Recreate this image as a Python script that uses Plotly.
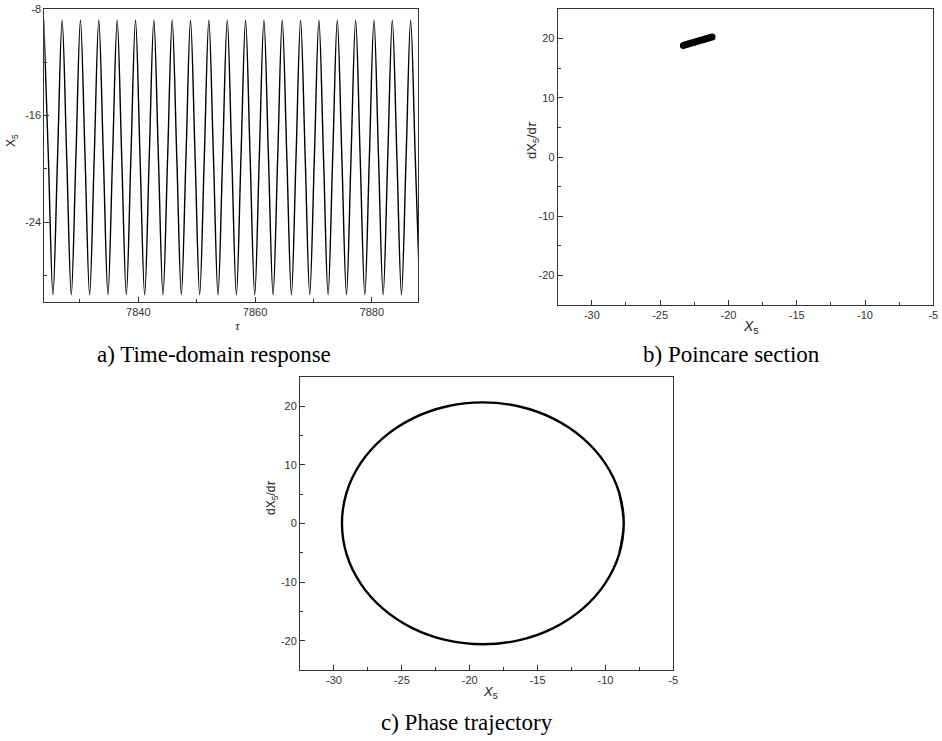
import plotly.graph_objects as go

# ---------------- data ----------------
# a) time-domain response: quarter-period points (peak, down-crossing, trough, up-crossing)
tau = [7823.81, 7824.60, 7825.38, 7826.17,
       7826.95, 7827.74, 7828.52, 7829.31,
       7830.09, 7830.88, 7831.66, 7832.45,
       7833.23, 7834.02, 7834.80, 7835.59,
       7836.38, 7837.16, 7837.95, 7838.73,
       7839.52, 7840.30, 7841.09, 7841.87,
       7842.66, 7843.44, 7844.23, 7845.02,
       7845.80, 7846.59, 7847.37, 7848.16,
       7848.94, 7849.73, 7850.51, 7851.30,
       7852.08, 7852.87, 7853.65, 7854.44,
       7855.23, 7856.01, 7856.80, 7857.58,
       7858.37, 7859.15, 7859.94, 7860.72,
       7861.51, 7862.29, 7863.08, 7863.87,
       7864.65, 7865.44, 7866.22, 7867.01,
       7867.79, 7868.58, 7869.36, 7870.15,
       7870.93, 7871.72, 7872.50, 7873.29,
       7874.08, 7874.86, 7875.65, 7876.43,
       7877.22, 7878.00, 7878.79, 7879.57,
       7880.36, 7881.14, 7881.93, 7882.72,
       7883.50, 7884.29, 7885.07, 7885.86,
       7886.64, 7887.43, 7888.21]
x5 = [-8.85, -19.15, -29.45, -19.15] * 20 + [-8.85, -19.15, -29.45]

# b) Poincare section points
poin_x = [-23.30, -23.15, -23.00, -22.85, -22.70, -22.55, -22.40, -22.25, -22.10,
          -21.95, -21.80, -21.65, -21.50, -21.35, -21.20]
poin_y = [18.85, 18.96, 19.06, 19.16, 19.26, 19.36, 19.46, 19.56, 19.66,
          19.76, 19.86, 19.96, 20.06, 20.17, 20.28]

# c) phase trajectory points (closed loop; one segment repeated at each end to close smoothly)
ph_x = [-9.00, -8.65, -9.00, -10.04, -11.69, -13.84, -16.34, -19.03, -21.72, -24.22,
        -26.37, -28.02, -29.06, -29.41, -29.06, -28.02, -26.37, -24.22, -21.72,
        -19.03, -16.34, -13.84, -11.69, -10.04, -9.00, -8.65, -9.00]
ph_y = [-5.34, 0.0, 5.34, 10.31, 14.58, 17.86, 19.92, 20.62, 19.92, 17.86,
        14.58, 10.31, 5.34, 0.0, -5.34, -10.31, -14.58, -17.86, -19.92,
        -20.62, -19.92, -17.86, -14.58, -10.31, -5.34, 0.0, 5.34]

# tick values / labels (hyphen minus as in the reference)
a_xticks = [7840, 7860, 7880]
a_yticks = [-8, -16, -24]
bc_xticks = [-30, -25, -20, -15, -10, -5]
bc_yticks = [20, 10, 0, -10, -20]

captions = ["a) Time-domain response", "b) Poincare section", "c) Phase trajectory"]

# ---------------- layout helpers ----------------
W, H = 942, 741
def px(x):
    return x / W
def py(y):
    return 1 - y / H

AX = "#333333"
tickfont = dict(family="Liberation Sans, Arial, sans-serif", size=11, color=AX)

def lab(v):
    return [str(t) for t in v]

def axis(rng, tvals, mdtick, mtick0, dom, anchor):
    return dict(range=rng, tickmode="array", tickvals=tvals, ticktext=lab(tvals),
                domain=dom, anchor=anchor,
                showline=True, linecolor=AX, linewidth=1, mirror=True,
                ticks="inside", ticklen=5, tickcolor=AX, tickwidth=1,
                showgrid=False, zeroline=False, tickfont=tickfont,
                minor=dict(ticks="inside", ticklen=3, dtick=mdtick, tick0=mtick0,
                           tickcolor=AX, showgrid=False))

fig = go.Figure()

fig.add_trace(go.Scatter(x=tau, y=x5, mode="lines", xaxis="x", yaxis="y",
                         line=dict(color="black", width=1.4, shape="spline"),
                         showlegend=False))
fig.add_trace(go.Scatter(x=poin_x, y=poin_y, mode="markers", xaxis="x2", yaxis="y2",
                         marker=dict(color="black", size=7),
                         showlegend=False))
fig.add_trace(go.Scatter(x=ph_x, y=ph_y, mode="lines", xaxis="x3", yaxis="y3",
                         line=dict(color="black", width=2.4, shape="spline"),
                         showlegend=False))

fig.update_layout(
    template="none",
    width=W, height=H, margin=dict(l=0, r=0, t=0, b=0, pad=0),
    paper_bgcolor="white", plot_bgcolor="white",
    xaxis=axis([7823.9, 7887.9], a_xticks, 10, 7840, [px(44.3), px(418)], "y"),
    yaxis=axis([-30, -8], a_yticks, 4, -8, [py(302), py(9)], "x"),
    xaxis2=axis([-32.5, -5], bc_xticks, 2.5, -30, [px(557.7), px(933.3)], "y2"),
    yaxis2=axis([-25, 25], bc_yticks, 5, 0, [py(305), py(9)], "x2"),
    xaxis3=axis([-32.5, -5], bc_xticks, 2.5, -30, [px(300), px(673.3)], "y3"),
    yaxis3=axis([-25, 25], bc_yticks, 5, 0, [py(670), py(376.7)], "x3"),
)

sans = "Liberation Sans, Arial, sans-serif"
serif = "Liberation Serif, Times New Roman, serif"
anns = [
    dict(text="X<sub>5</sub>", x=px(12), y=py(141), textangle=-90,
         font=dict(family=sans, size=12, color="#222")),
    dict(text="<i>τ</i>", x=px(238), y=py(325),
         font=dict(family=serif, size=13, color="#222")),
    dict(text="<i>X</i><sub>5</sub>", x=px(751), y=py(327),
         font=dict(family=sans, size=14, color="#222")),
    dict(text="dX<sub>5</sub>/d<i>τ</i>", x=px(532), y=py(140), textangle=-90,
         font=dict(family=sans, size=13, color="#222")),
    dict(text="<i>X</i><sub>5</sub>", x=px(490), y=py(692),
         font=dict(family=sans, size=13, color="#222")),
    dict(text="dX<sub>5</sub>/d<i>τ</i>", x=px(272), y=py(498), textangle=-90,
         font=dict(family=sans, size=12, color="#222")),
    dict(text=captions[0], x=px(214), y=py(354),
         font=dict(family=serif, size=23, color="black")),
    dict(text=captions[1], x=px(731), y=py(354),
         font=dict(family=serif, size=23, color="black")),
    dict(text=captions[2], x=px(466.5), y=py(722),
         font=dict(family=serif, size=23, color="black")),
]
for a in anns:
    a.update(xref="paper", yref="paper", showarrow=False,
             xanchor="center", yanchor="middle")
fig.update_layout(annotations=anns)

post = ("document.body.style.margin='0px';"
        "var gd=document.getElementById('{plot_id}');"
        "gd.style.position='fixed';gd.style.top='0px';gd.style.left='0px';")
fig.write_html("out.html", config={"displayModeBar": False}, post_script=post)
